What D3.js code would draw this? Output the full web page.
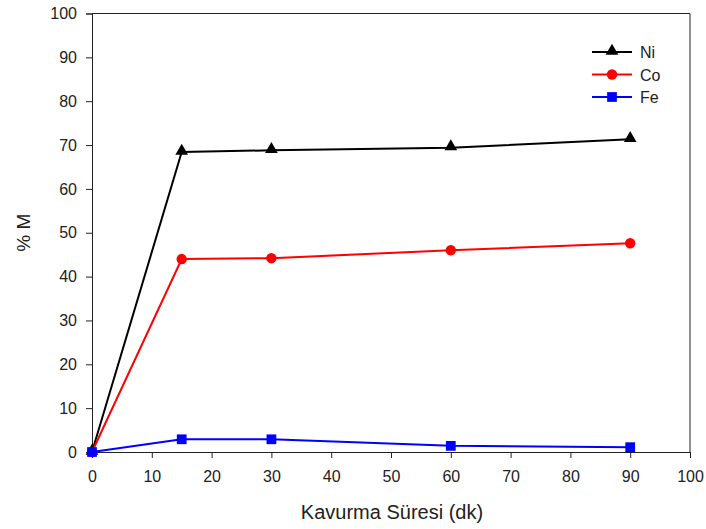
<!DOCTYPE html>
<html><head><meta charset="utf-8">
<script src="https://cdn.jsdelivr.net/npm/d3@7"></script>
<style>body{margin:0;background:#fff}svg{font-family:"Liberation Sans",Arial,sans-serif}</style>
</head><body><svg id="c" width="706" height="529"></svg>
<script>
const times = [0, 15, 30, 60, 90];
const ni = [0, 68.4, 68.8, 69.4, 71.3];
const co = [0, 44.0, 44.2, 46.0, 47.6];
const fe = [0, 2.9, 2.9, 1.4, 1.1];
const xTicks = [0,10,20,30,40,50,60,70,80,90,100];
const yTicks = [0,10,20,30,40,50,60,70,80,90,100];
const series = [
  {name:"Ni", values:ni, color:"#000000", shape:"triangle"},
  {name:"Co", values:co, color:"#ff0000", shape:"circle"},
  {name:"Fe", values:fe, color:"#0000ff", shape:"square"}
];
const svg = d3.select("#c");
const L=92, R=690, T=13.5, B=452;
const x = d3.scaleLinear().domain([0,100]).range([L,R]);
const y = d3.scaleLinear().domain([0,100]).range([B,T]);

svg.append("g").attr("transform",`translate(0,${B})`)
  .call(d3.axisBottom(x).tickValues(xTicks).tickSize(6).tickPadding(13))
  .call(g=>{g.select(".domain").attr("stroke","#222");g.selectAll("line").attr("stroke","#222");g.selectAll("text").attr("font-size",16).attr("fill","#222").attr("font-family","Liberation Sans, Arial");});
svg.append("g").attr("transform",`translate(${L},0)`)
  .call(d3.axisLeft(y).tickValues(yTicks).tickSize(6).tickPadding(9))
  .call(g=>{g.select(".domain").attr("stroke","#222");g.selectAll("line").attr("stroke","#222");g.selectAll("text").attr("font-size",16).attr("fill","#222").attr("font-family","Liberation Sans, Arial");});
svg.append("line").attr("x1",L).attr("x2",R).attr("y1",T).attr("y2",T).attr("stroke","#222");
svg.append("line").attr("x1",R).attr("x2",R).attr("y1",T).attr("y2",B).attr("stroke","#222");

svg.append("text").attr("x",(L+R)/2+1).attr("y",519).attr("text-anchor","middle").attr("font-size",20).attr("fill","#222").text("Kavurma Süresi (dk)");
svg.append("text").attr("transform",`translate(30,${(T+B)/2}) rotate(-90)`).attr("text-anchor","middle").attr("font-size",19).attr("fill","#222").text("% M");

const sym = {triangle:d3.symbolTriangle, circle:d3.symbolCircle, square:d3.symbolSquare};
const sz = {triangle:70, circle:85, square:95};
const line = d3.line().x((d,i)=>x(times[i])).y(d=>y(d));
series.forEach(s=>{
  svg.append("path").attr("d",line(s.values)).attr("fill","none").attr("stroke",s.color).attr("stroke-width",2);
  svg.append("g").selectAll("path").data(s.values).join("path")
    .attr("transform",(d,i)=>`translate(${x(times[i])},${y(d)+(s.shape==="triangle"?-1:0)})`)
    .attr("d",d3.symbol().type(sym[s.shape]).size(sz[s.shape])).attr("fill",s.color);
});
// legend
const lg = svg.append("g");
series.forEach((s,i)=>{
  const yy = 52 + i*22.5;
  lg.append("line").attr("x1",592).attr("x2",632).attr("y1",yy).attr("y2",yy).attr("stroke",s.color).attr("stroke-width",2);
  lg.append("path").attr("transform",`translate(612,${yy+(s.shape==="triangle"?-1:0)})`).attr("d",d3.symbol().type(sym[s.shape]).size(sz[s.shape])).attr("fill",s.color);
  lg.append("text").attr("x",640).attr("y",yy+6).attr("font-size",16).attr("fill","#222").text(s.name);
});
</script></body></html>
